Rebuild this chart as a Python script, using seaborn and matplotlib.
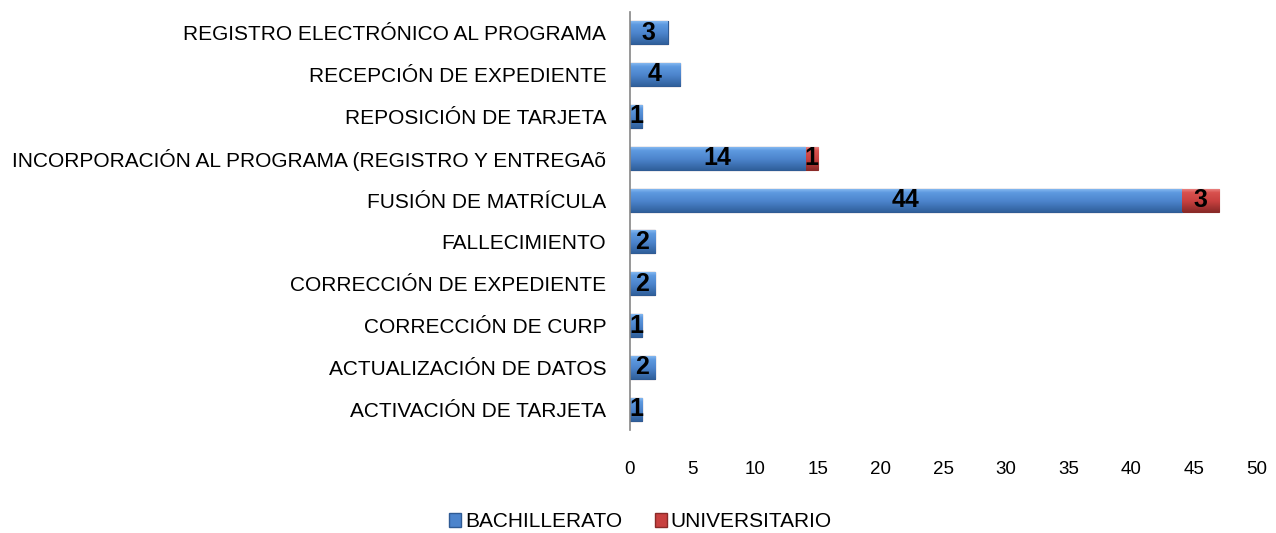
import matplotlib
matplotlib.use("Agg")
import matplotlib.pyplot as plt
import numpy as np
import pandas as pd
import seaborn as sns
from matplotlib.colors import LinearSegmentedColormap
from matplotlib.patches import Patch

categories = [
    "REGISTRO ELECTRÓNICO AL PROGRAMA",
    "RECEPCIÓN DE EXPEDIENTE",
    "REPOSICIÓN DE TARJETA",
    "INCORPORACIÓN AL PROGRAMA (REGISTRO Y ENTREGAõ",
    "FUSIÓN DE MATRÍCULA",
    "FALLECIMIENTO",
    "CORRECCIÓN DE EXPEDIENTE",
    "CORRECCIÓN DE CURP",
    "ACTUALIZACIÓN DE DATOS",
    "ACTIVACIÓN DE TARJETA",
]
bachillerato = [3, 4, 1, 14, 44, 2, 2, 1, 2, 1]
universitario = [0, 0, 0, 1, 3, 0, 0, 0, 0, 0]
x_ticks = [0, 5, 10, 15, 20, 25, 30, 35, 40, 45, 50]

BLUE = "#4C84CC"
BLUE_EDGE = "#2F5B94"
RED = "#C8403F"
RED_EDGE = "#8A2A28"

blue_grad = LinearSegmentedColormap.from_list(
    "blue", [(0, "#8EC0F4"), (0.18, "#5E9AE0"), (0.55, "#4C84CC"), (1, "#30609C")])
red_grad = LinearSegmentedColormap.from_list(
    "red", [(0, "#EE8E8C"), (0.18, "#D8514E"), (0.55, "#C8403F"), (1, "#8A2A28")])

df = pd.DataFrame({
    "tramite": categories,
    "bachillerato": bachillerato,
    "universitario": universitario,
})
df["total"] = df["bachillerato"] + df["universitario"]

sns.set_style("white")
plt.rcParams["font.family"] = ["Liberation Sans", "DejaVu Sans"]
plt.rcParams["text.color"] = "black"
plt.rcParams["xtick.color"] = "black"
plt.rcParams["ytick.color"] = "black"

fig = plt.figure(figsize=(12.76, 5.33), dpi=100)
ax = fig.add_axes([0.4937, 0.193, 0.4913, 0.785])

# stacked bars: total in red underneath, bachillerato in blue on top
sns.barplot(data=df, y="tramite", x="total", order=categories, orient="h",
            color=RED, saturation=1, width=0.55, edgecolor=RED_EDGE,
            linewidth=0.8, ax=ax)
n_red = len(ax.patches)
sns.barplot(data=df, y="tramite", x="bachillerato", order=categories, orient="h",
            color=BLUE, saturation=1, width=0.55, edgecolor=BLUE_EDGE,
            linewidth=0.8, ax=ax)

ax.set_xlim(0, 50)
ax.set_ylim(len(categories) - 0.5, -0.5)

# bevel-like vertical gradient clipped to each bar
grad = np.linspace(0, 1, 64).reshape(-1, 1)
for k, patch in enumerate(ax.patches):
    w = patch.get_width()
    if w <= 0:
        continue
    x0, y0, h = patch.get_x(), patch.get_y(), patch.get_height()
    cmap = red_grad if k < n_red else blue_grad
    im = ax.imshow(grad, cmap=cmap, aspect="auto", origin="upper",
                   extent=(x0, x0 + w, y0 + h, y0), zorder=patch.get_zorder() + 0.1 + k * 0.001)
    im.set_clip_path(patch)

ax.set_xlim(0, 50)
ax.set_ylim(len(categories) - 0.5, -0.5)

# value labels
for i, (b, u) in enumerate(zip(bachillerato, universitario)):
    ax.text(b / 2, i, str(b), ha="center", va="center", fontsize=18,
            fontweight="bold", color="black", zorder=10)
    if u > 0:
        ax.text(b + u / 2, i, str(u), ha="center", va="center", fontsize=18,
                fontweight="bold", color="black", zorder=10)

ax.set_xticks(x_ticks)
ax.set_xlabel("")
ax.set_ylabel("")
ax.tick_params(axis="x", length=0, pad=22, labelsize=13.5)
ax.tick_params(axis="y", length=0, pad=17, labelsize=15)
for side in ["top", "right", "bottom"]:
    ax.spines[side].set_visible(False)
ax.spines["left"].set_color("#868686")
ax.spines["left"].set_linewidth(1.2)

handles = [
    Patch(facecolor=BLUE, edgecolor=BLUE_EDGE, label="BACHILLERATO"),
    Patch(facecolor=RED, edgecolor=RED_EDGE, label="UNIVERSITARIO"),
]
fig.legend(handles=handles, loc="center", bbox_to_anchor=(0.502, 0.021),
           ncol=2, frameon=False, fontsize=15, handlelength=0.55,
           handleheight=0.7, handletextpad=0.2, columnspacing=1.6)

fig.savefig("out.png", dpi=100)
